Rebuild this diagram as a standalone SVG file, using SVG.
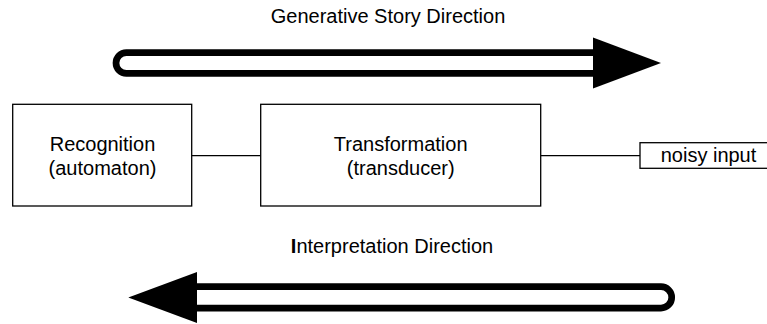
<svg xmlns="http://www.w3.org/2000/svg" width="767" height="324" viewBox="0 0 767 324">
<style>
  text { font-family: "Liberation Sans", Arial, sans-serif; font-size: 20px; fill: #000; }
  .box { fill: #fff; stroke: #000; stroke-width: 1.3; }
  .conn { stroke: #000; stroke-width: 1.3; fill: none; }
  .shaft { fill: #fff; stroke: #000; stroke-width: 6.7; }
  .head { fill: #000; stroke: none; }
</style>
<rect width="767" height="324" fill="#fff"/>
<g id="generative-arrow">
  <path class="shaft" d="M593,52.6 H126.4 A10.4,10.4 0 0 0 126.4,73.4 H593"/>
  <polygon class="head" points="593,37.5 661,63 593,88.5"/>
  <text x="388" y="22.5" text-anchor="middle">Generative Story Direction</text>
</g>
<g id="interpretation-arrow">
  <path class="shaft" d="M197,286.7 H661 A10.7,10.7 0 0 1 661,308.1 H197"/>
  <polygon class="head" points="197,272 128.3,297.4 197,323"/>
  <text x="392" y="253" text-anchor="middle"><tspan font-weight="bold">I</tspan>nterpretation Direction</text>
</g>
<g id="connectors">
  <line class="conn" x1="191.7" y1="155.7" x2="260.7" y2="155.7"/>
  <line class="conn" x1="540.7" y1="155.7" x2="640" y2="155.7"/>
</g>
<g id="recognition">
  <rect class="box" x="12.7" y="104.3" width="179" height="101.7"/>
  <text x="102.5" y="151" text-anchor="middle">Recognition</text>
  <text x="102.5" y="175" text-anchor="middle">(automaton)</text>
</g>
<g id="transformation">
  <rect class="box" x="260.7" y="104.3" width="280" height="101.7"/>
  <text x="400.7" y="151" text-anchor="middle">Transformation</text>
  <text x="400.7" y="175" text-anchor="middle">(transducer)</text>
</g>
<g id="noisy-input">
  <rect class="box" x="640" y="142.7" width="140" height="25.6"/>
  <text x="708.5" y="162" text-anchor="middle">noisy input</text>
</g>
</svg>
